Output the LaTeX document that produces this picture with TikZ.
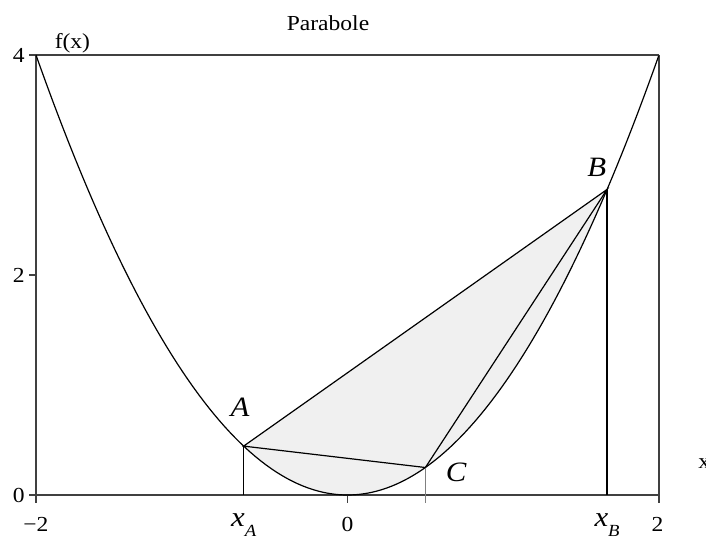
\documentclass[tikz,border=0pt]{standalone}
\usepackage{fontspec}
\setmainfont{Liberation Serif}
\usepackage{graphicx}
% texte un peu etire en largeur, comme dans la figure
\newcommand{\etire}[1]{\scalebox{1.1}[1]{#1}}
\tikzset{
  cadre/.style={black!75, line width=0.8pt},
  trait/.style={black, line width=0.6pt},
  etiq/.style={font=\fontsize{10.7}{12}\selectfont, inner sep=0pt},
  point/.style={font=\fontsize{14}{16}\selectfont\itshape, inner sep=0pt},
}
\begin{document}
\begin{tikzpicture}[x=77.875pt, y=55pt]
        \useasboundingbox (-2.2311,-0.3727) rectangle (2.3018,4.5);

        % Abscisses des points (C : tangente parallele a AB)
        \def\xA{-0.6667}
        \def\xC{0.5}
        \def\xB{1.6667}
        \coordinate (A) at (\xA,{\xA*\xA});
        \coordinate (B) at (\xB,{\xB*\xB});
        \coordinate (C) at (\xC,{\xC*\xC});
        \coordinate (A0) at (\xA,0);
        \coordinate (B0) at (\xB,0);
        \coordinate (C0) at (\xC,-0.07);

        % Segment parabolique entre la corde AB et la courbe
        \fill[gray!12] (A) -- (B) -- plot[domain=\xB:\xA, samples=60] (\x,{\x*\x}) -- cycle;

        % Cadre et graduations
        \draw[cadre] (-2,0) -- (2,0);
        \draw[cadre] (-2,4) -- (2,4);
        \draw[cadre] (-2,-0.07) -- (-2,4);
        \draw[cadre] (2,-0.07) -- (2,4);
        \foreach \y in {0,2,4}
          \draw[cadre] (-2,\y) -- ++(-0.045,0);
        \draw[cadre] (0,0) -- ++(0,-0.07);

        % Parabole f(x) = x^2
        \draw[trait] plot[domain=-2:2, samples=120] (\x,{\x*\x});

        % Triangle ABC et verticales
        \draw[trait] (A) -- (B) -- (C) -- cycle;
        \draw[trait] (A) -- (A0);
        \draw[trait] (B) -- (B0);
        \draw[gray, line width=0.6pt] (C) -- (C0);

        % Textes
        \node[etiq, anchor=base] (titre) at (-0.125,4.221) {\etire{Parabole}};
        \node[etiq, anchor=base] (fx) at (-1.766,4.055) {\etire{f(x)}};
        \node[etiq, anchor=base west] (xlab) at (2.25,0.245) {\etire{x}};
        \foreach \y in {0,2,4}
          \node[etiq, anchor=east] (y\y) at (-2.07,\y) {\etire{\y}};
        \node[etiq, anchor=base] (xm2) at (-2,-0.334) {\etire{−2}};
        \node[etiq, anchor=base] (x0) at (0,-0.334) {\etire{0}};
        \node[etiq, anchor=base] (x2) at (1.991,-0.334) {\etire{2}};

        % Noms des points
        \node[point, anchor=base] (lA) at (-0.690,0.712) {\etire{A}};
        \node[point, anchor=base] (lB) at (1.600,2.894) {\etire{B}};
        \node[point, anchor=base] (lC) at (0.697,0.127) {\etire{C}};
        \node[point, anchor=base] (lxA) at (\xA,-0.288)
          {\etire{x\raisebox{-5pt}{\fontsize{8.5}{10}\selectfont A}}};
        \node[point, anchor=base] (lxB) at (\xB,-0.288)
          {\etire{x\raisebox{-5pt}{\fontsize{8.5}{10}\selectfont B}}};

    \end{tikzpicture}
\end{document}
